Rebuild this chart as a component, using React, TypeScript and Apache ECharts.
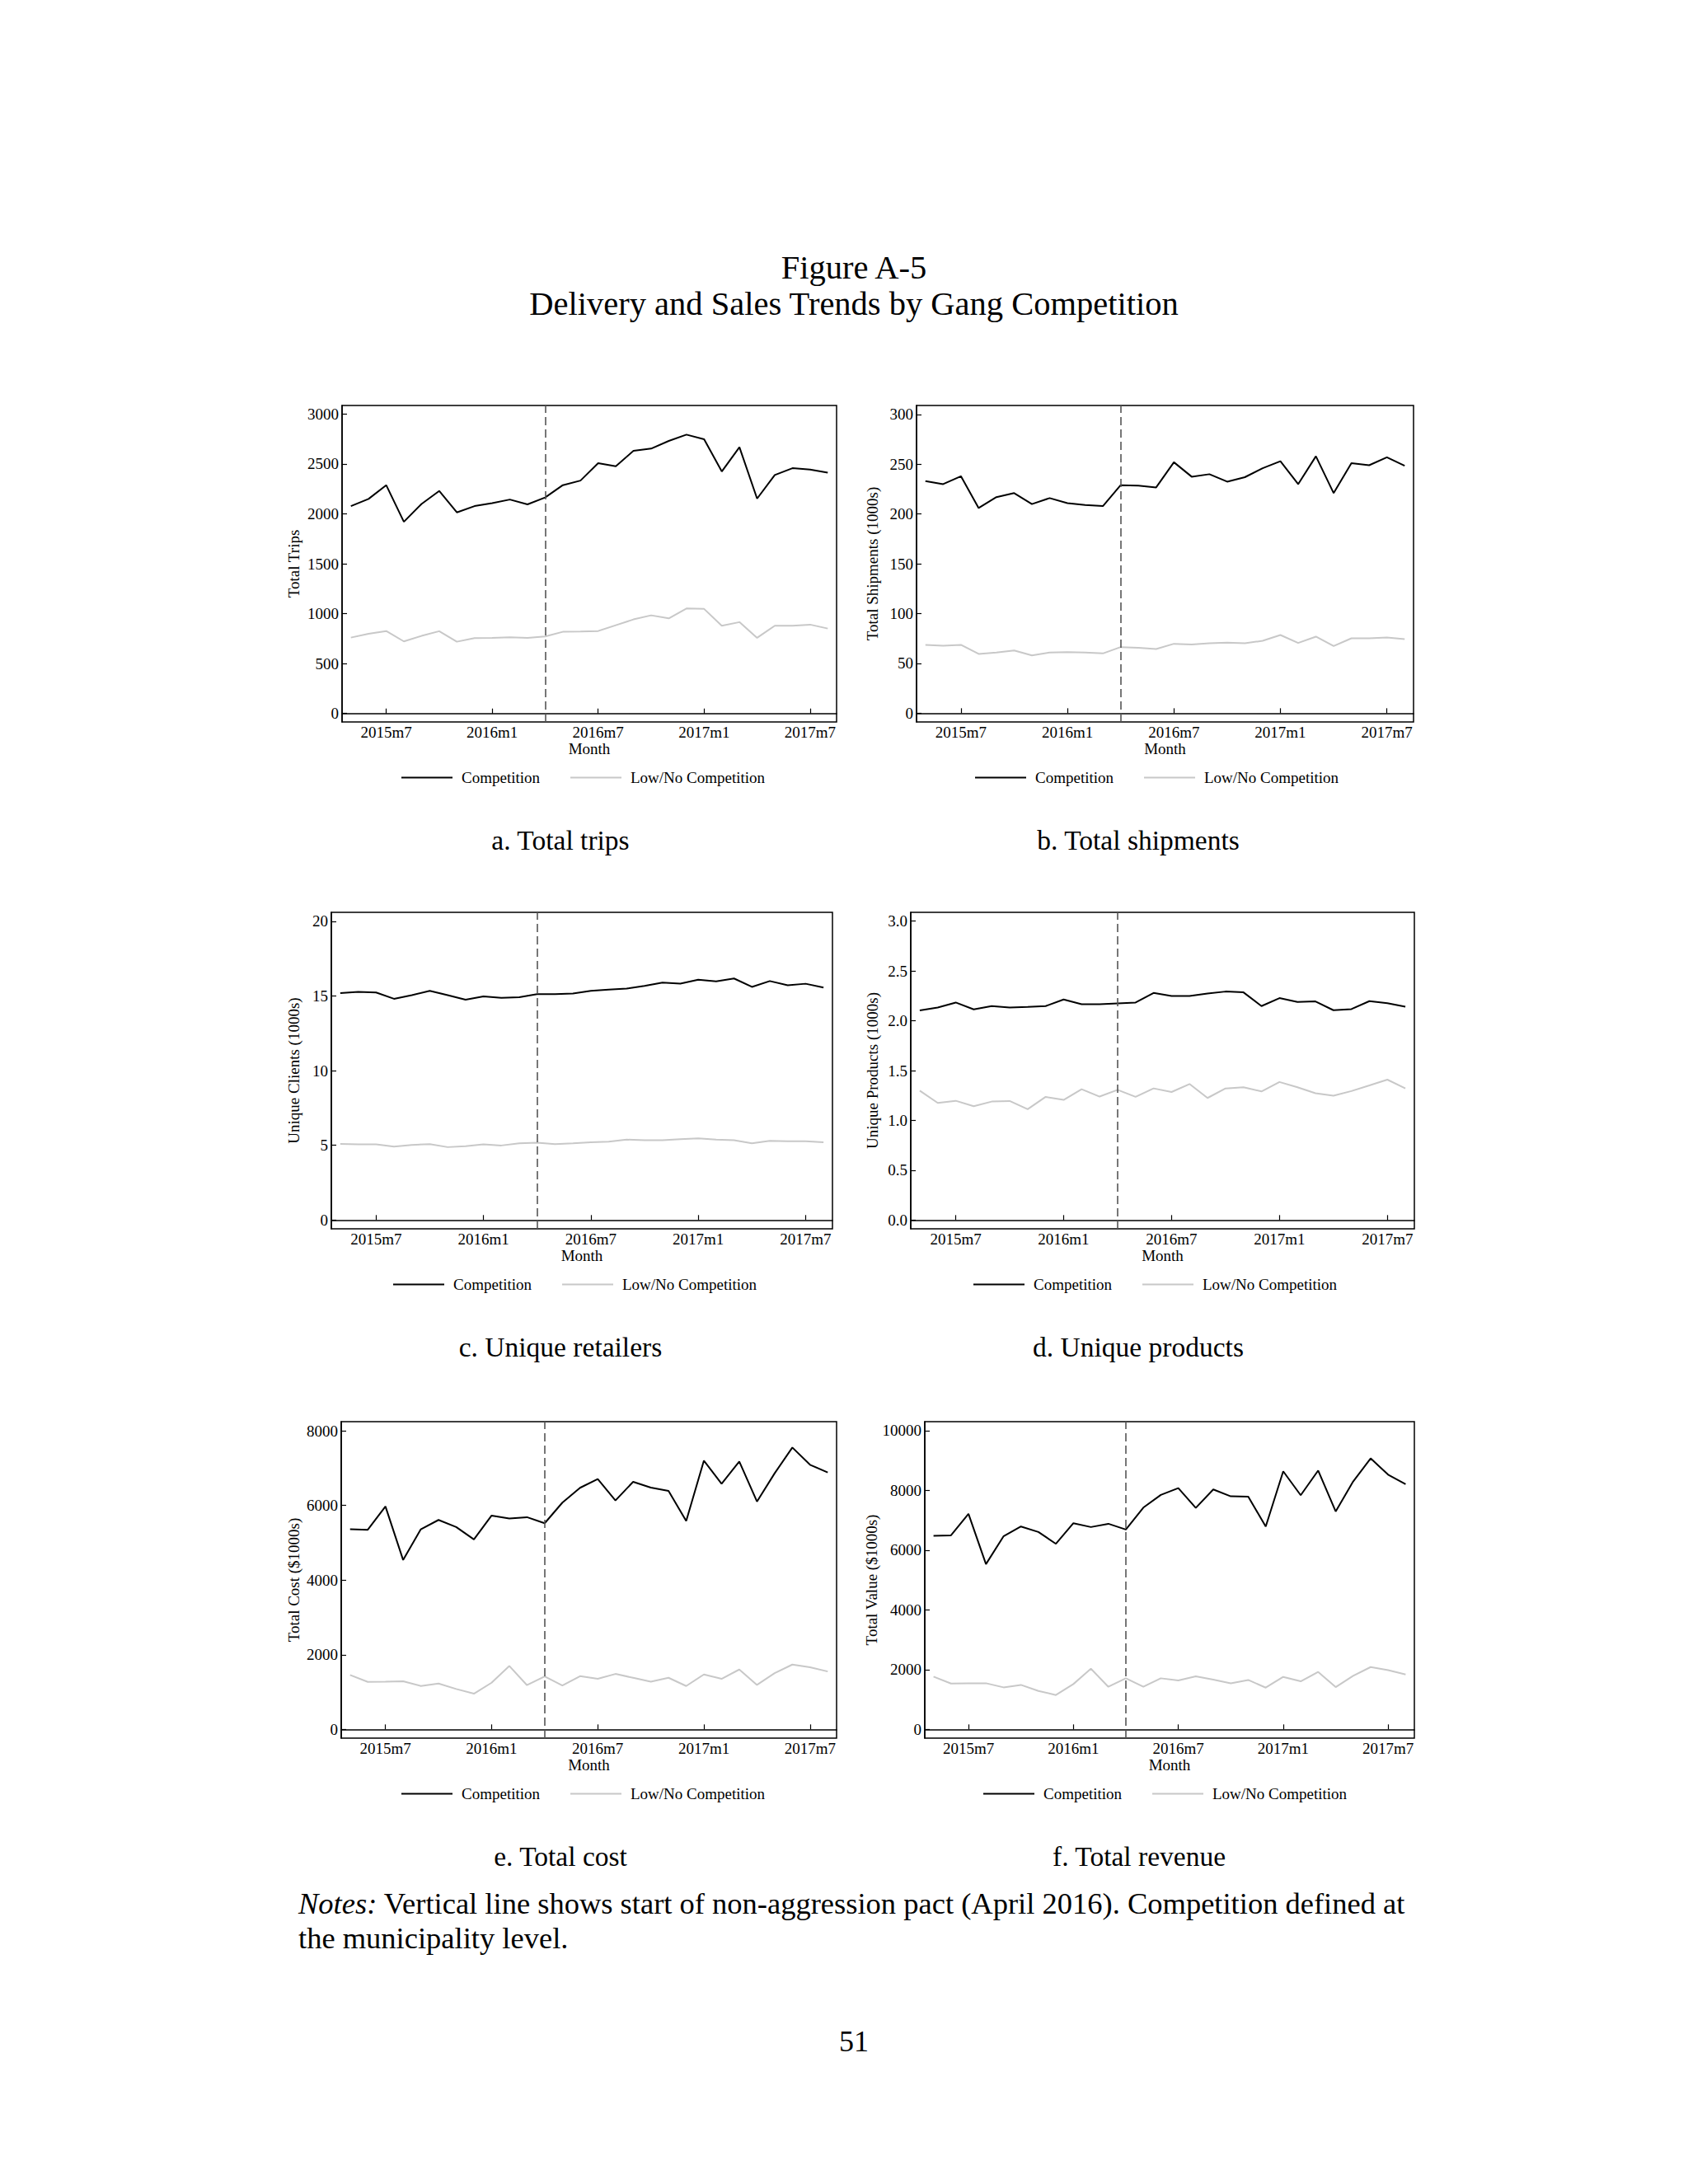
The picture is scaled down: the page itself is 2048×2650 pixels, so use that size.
import React, { useEffect, useRef } from "react";
import * as echarts from "echarts";

const months = [
  "2015m5", "2015m6", "2015m7", "2015m8", "2015m9", "2015m10", "2015m11", "2015m12",
  "2016m1", "2016m2", "2016m3", "2016m4", "2016m5", "2016m6", "2016m7", "2016m8",
  "2016m9", "2016m10", "2016m11", "2016m12", "2017m1", "2017m2", "2017m3", "2017m4",
  "2017m5", "2017m6", "2017m7", "2017m8",
];
const xTickLabels = ["2015m7", "2016m1", "2016m7", "2017m1", "2017m7"];
const pactMonth = "2016m4";
const seriesNames = ["Competition", "Low/No Competition"];

const tripsComp = [2077, 2149, 2287, 1920, 2099, 2229, 2014, 2077, 2107, 2143, 2094, 2163, 2287, 2333, 2507, 2477, 2631, 2653, 2730, 2793, 2747, 2424, 2667, 2152, 2388, 2457, 2444, 2413];
const tripsLow = [760, 799, 826, 722, 777, 824, 719, 755, 758, 763, 758, 771, 818, 821, 826, 884, 942, 983, 953, 1052, 1047, 879, 915, 758, 879, 879, 890, 851];
const shipComp = [233, 230, 238, 206, 217, 221, 210, 216, 211, 209, 208, 229, 228.5, 226.7, 252, 237.5, 240, 232.5, 237, 246, 253, 230, 258, 221, 251, 249, 257, 248.5];
const shipLow = [68.6, 67.8, 68.6, 59.5, 61, 63, 58, 61, 61.4, 61, 60, 66.4, 65.6, 64.5, 69.7, 68.9, 70.2, 70.8, 70.2, 72.7, 78.5, 70.5, 76.9, 67.5, 75.2, 75.2, 76, 74.4];
const clientComp = [15.19, 15.27, 15.23, 14.81, 15.05, 15.34, 15.05, 14.75, 14.97, 14.88, 14.92, 15.12, 15.12, 15.17, 15.34, 15.43, 15.5, 15.67, 15.89, 15.83, 16.09, 15.98, 16.17, 15.61, 16.0, 15.72, 15.82, 15.56];
const clientLow = [5.10, 5.06, 5.06, 4.92, 5.03, 5.08, 4.88, 4.94, 5.06, 4.99, 5.14, 5.17, 5.08, 5.14, 5.21, 5.25, 5.38, 5.34, 5.34, 5.41, 5.47, 5.38, 5.34, 5.14, 5.30, 5.27, 5.27, 5.21];
const prodComp = [2.103, 2.133, 2.183, 2.114, 2.147, 2.133, 2.139, 2.147, 2.213, 2.166, 2.166, 2.175, 2.183, 2.279, 2.249, 2.249, 2.274, 2.293, 2.285, 2.147, 2.227, 2.189, 2.194, 2.106, 2.117, 2.197, 2.177, 2.141];
const prodLow = [1.299, 1.175, 1.197, 1.142, 1.189, 1.195, 1.112, 1.236, 1.206, 1.313, 1.239, 1.307, 1.236, 1.321, 1.285, 1.365, 1.225, 1.321, 1.332, 1.291, 1.385, 1.332, 1.272, 1.247, 1.294, 1.351, 1.409, 1.321];
const costComp = [5360, 5346, 5971, 4537, 5360, 5610, 5419, 5088, 5728, 5647, 5684, 5522, 6074, 6471, 6706, 6132, 6632, 6478, 6390, 5581, 7199, 6581, 7176, 6103, 6860, 7551, 7088, 6882];
const costLow = [1456, 1272, 1279, 1287, 1162, 1228, 1081, 956, 1250, 1699, 1184, 1419, 1176, 1426, 1353, 1485, 1382, 1279, 1382, 1162, 1471, 1353, 1603, 1191, 1507, 1735, 1662, 1551];
const valueComp = [6480, 6498, 7215, 5533, 6461, 6792, 6608, 6213, 6903, 6774, 6884, 6691, 7426, 7849, 8079, 7417, 8033, 7803, 7794, 6792, 8640, 7840, 8667, 7298, 8300, 9072, 8529, 8208];
const valueLow = [1765, 1535, 1544, 1544, 1406, 1489, 1287, 1149, 1517, 2031, 1425, 1710, 1425, 1710, 1636, 1774, 1664, 1544, 1654, 1397, 1756, 1608, 1921, 1415, 1792, 2086, 1985, 1838];

const tripsTicks = [0, 500, 1000, 1500, 2000, 2500, 3000];
const shipTicks = [0, 50, 100, 150, 200, 250, 300];
const clientTicks = [0, 5, 10, 15, 20];
const prodTicks = [0, 0.5, 1, 1.5, 2, 2.5, 3];
const costTicks = [0, 2000, 4000, 6000, 8000];
const valueTicks = [0, 2000, 4000, 6000, 8000, 10000];

const FONT = "Liberation Serif";

const panels = [
  { comp: tripsComp, low: tripsLow, ticks: tripsTicks, min: -85, max: 3085, name: "Total Trips", dec: 0,
    left: 415, right: 1015, top: 492, nameGap: 49, legendLeft: 482, caption: "a. Total trips", capX: 680 },
  { comp: shipComp, low: shipLow, ticks: shipTicks, min: -8.8, max: 309, name: "Total Shipments (1000s)", dec: 0,
    left: 1112, right: 1715, top: 492, nameGap: 44, legendLeft: 1178, caption: "b. Total shipments", capX: 1381 },
  { comp: clientComp, low: clientLow, ticks: clientTicks, min: -0.59, max: 20.6, name: "Unique Clients (1000s)", dec: 0,
    left: 402, right: 1010, top: 1107, nameGap: 36, legendLeft: 472, caption: "c. Unique retailers", capX: 680 },
  { comp: prodComp, low: prodLow, ticks: prodTicks, min: -0.088, max: 3.088, name: "Unique Products (1000s)", dec: 1,
    left: 1105, right: 1716, top: 1107, nameGap: 37, legendLeft: 1176, caption: "d. Unique products", capX: 1381 },
  { comp: costComp, low: costLow, ticks: costTicks, min: -235, max: 8243, name: "Total Cost ($1000s)", dec: 0,
    left: 414, right: 1015, top: 1725, nameGap: 48, legendLeft: 482, caption: "e. Total cost", capX: 680 },
  { comp: valueComp, low: valueLow, ticks: valueTicks, min: -294, max: 10303, name: "Total Value ($1000s)", dec: 0,
    left: 1122, right: 1716, top: 1725, nameGap: 54, legendLeft: 1188, caption: "f. Total revenue", capX: 1382 },
];

const PLOT_H = 384;

export default function App() {
  const ref = useRef<HTMLDivElement>(null);
  useEffect(() => {
    if (!ref.current) return;
    const chart = echarts.init(ref.current, null, { renderer: "svg" });
    const tickSet = new Set(xTickLabels.map((l) => months.indexOf(l)));
    const textStyle = { fontFamily: FONT, fontSize: 19, color: "#000" };

    const grid: any[] = [];
    const xAxis: any[] = [];
    const yAxis: any[] = [];
    const series: any[] = [];
    const legend: any[] = [];
    const graphic: any[] = [];

    panels.forEach((p, i) => {
      grid.push({
        left: p.left, top: p.top, width: p.right - p.left, height: PLOT_H,
        show: true, borderColor: "#000", borderWidth: 1.5, backgroundColor: "transparent",
      });
      xAxis.push({
        type: "category", gridIndex: i, data: months, boundaryGap: true,
        axisLine: { show: true, lineStyle: { color: "#000", width: 1.5 } },
        axisTick: { show: true, inside: true, length: 6, alignWithLabel: true,
          interval: (idx: number) => tickSet.has(idx), lineStyle: { color: "#000", width: 1.2 } },
        axisLabel: { ...textStyle, margin: 3, interval: (idx: number) => tickSet.has(idx) },
        splitLine: { show: false },
        name: "Month", nameLocation: "middle", nameGap: 21, nameTextStyle: textStyle,
      });
      yAxis.push({
        type: "value", gridIndex: i, min: p.min, max: p.max,
        splitLine: { show: false },
        axisLine: { show: true, lineStyle: { color: "#000", width: 1.5 } },
        axisTick: { show: true, inside: true, length: 6, customValues: p.ticks, lineStyle: { color: "#000", width: 1.2 } },
        axisLabel: { ...textStyle, margin: 4, customValues: p.ticks,
          formatter: (v: number) => v.toFixed(p.dec) },
        name: p.name, nameLocation: "middle", nameGap: p.nameGap, nameRotate: 90,
        nameTextStyle: textStyle,
      });
      series.push({
        type: "line", name: seriesNames[1], xAxisIndex: i, yAxisIndex: i,
        data: p.low, symbol: "none", color: "#c8c8c8",
        lineStyle: { color: "#c8c8c8", width: 2 }, itemStyle: { color: "#c8c8c8" },
      });
      series.push({
        type: "line", name: seriesNames[0], xAxisIndex: i, yAxisIndex: i,
        data: p.comp, symbol: "none", color: "#000",
        lineStyle: { color: "#000", width: 2 }, itemStyle: { color: "#000" },
        markLine: {
          silent: true, symbol: "none", label: { show: false },
          lineStyle: { type: [10, 5], color: "#555", width: 1.6 },
          data: [{ xAxis: pactMonth }],
        },
      });
      legend.push({
        data: seriesNames, left: p.legendLeft, top: p.top + PLOT_H + 53,
        itemWidth: 62, itemHeight: 2, icon: "rect", itemGap: 37,
        textStyle: { ...textStyle, padding: [0, 0, 0, 6] },
      });
      graphic.push({
        type: "text", x: p.capX, y: p.top + PLOT_H + 143,
        style: { text: p.caption, fontFamily: FONT, fontSize: 33.5, fill: "#000", align: "center", verticalAlign: "middle" },
      });
    });

    graphic.push({
      type: "text", x: 1036, y: 324,
      style: { text: "Figure A-5", fontFamily: FONT, fontSize: 40.5, fill: "#000", align: "center", verticalAlign: "middle" },
    });
    graphic.push({
      type: "text", x: 1036, y: 368,
      style: { text: "Delivery and Sales Trends by Gang Competition", fontFamily: FONT, fontSize: 40.5, fill: "#000", align: "center", verticalAlign: "middle" },
    });
    graphic.push({
      type: "text", x: 362, y: 2309,
      style: {
        text: "{i|Notes:} Vertical line shows start of non-aggression pact (April 2016). Competition defined at",
        rich: { i: { fontStyle: "italic", fontFamily: FONT, fontSize: 36.5, fill: "#000" } },
        fontFamily: FONT, fontSize: 36.5, fill: "#000", align: "left", verticalAlign: "middle",
      },
    });
    graphic.push({
      type: "text", x: 362, y: 2351,
      style: { text: "the municipality level.", fontFamily: FONT, fontSize: 36.5, fill: "#000", align: "left", verticalAlign: "middle" },
    });
    graphic.push({
      type: "text", x: 1036, y: 2477,
      style: { text: "51", fontFamily: FONT, fontSize: 36, fill: "#000", align: "center", verticalAlign: "middle" },
    });

    chart.setOption({
      animation: false,
      backgroundColor: "#fff",
      grid, xAxis, yAxis, series, legend, graphic,
    });
    return () => chart.dispose();
  }, []);
  return <div ref={ref} style={{ position: "absolute", left: 0, top: 0, width: 2048, height: 2650, background: "#fff" }} />;
}
